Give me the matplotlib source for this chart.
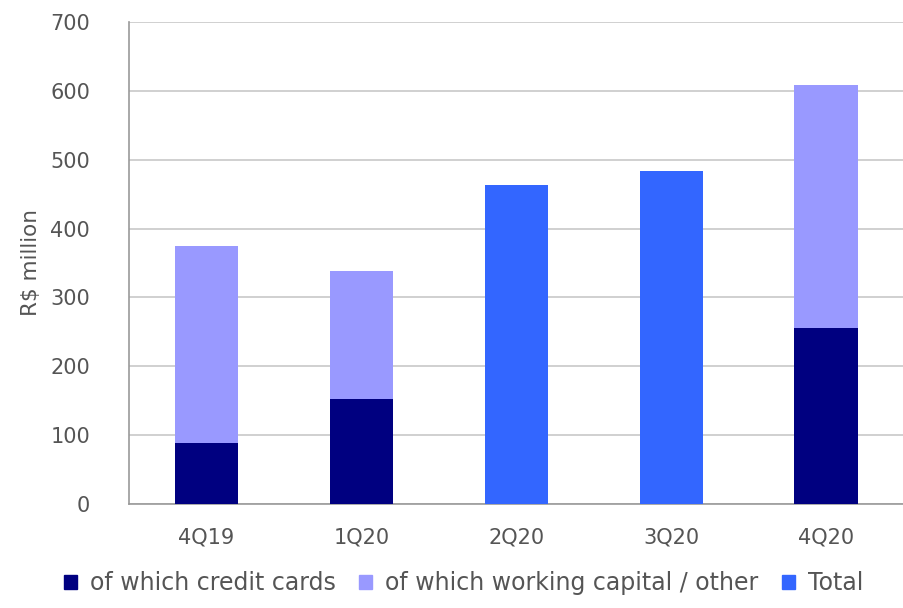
import numpy as np
import matplotlib
matplotlib.use("Agg")
import matplotlib.pyplot as plt
from matplotlib.patches import Patch

categories = ["4Q19", "1Q20", "2Q20", "3Q20", "4Q20"]
credit_cards = [88, 153, np.nan, np.nan, 256]
working_capital = [286, 185, np.nan, np.nan, 353]
total = [np.nan, np.nan, 463, 484, np.nan]
yticks = [0, 100, 200, 300, 400, 500, 600, 700]

c_credit = "#000080"
c_work = "#9999FF"
c_total = "#3366FF"
txt = "#555555"

fig = plt.figure(figsize=(9.04, 6.08), dpi=100)
ax = fig.add_axes([0.1427, 0.171, 0.857, 0.793])

x = np.arange(len(categories))
w = 0.41
cc = np.nan_to_num(np.array(credit_cards, dtype=float))
wc = np.nan_to_num(np.array(working_capital, dtype=float))
tt = np.nan_to_num(np.array(total, dtype=float))
ax.bar(x, cc, w, color=c_credit, zorder=3)
ax.bar(x, wc, w, bottom=cc, color=c_work, zorder=3)
ax.bar(x, tt, w, color=c_total, zorder=3)

ax.set_xlim(-0.5, len(categories) - 0.5)
ax.set_ylim(0, 700)
ax.set_yticks(yticks)
ax.set_xticks(x)
ax.set_xticklabels(categories)
ax.tick_params(axis="both", length=0, labelsize=15, colors=txt)
ax.tick_params(axis="y", pad=28)
ax.tick_params(axis="x", pad=17)
ax.grid(axis="y", color="#c8c8c8", linewidth=1.2, zorder=0)
for s in ["top", "right"]:
    ax.spines[s].set_visible(False)
for s in ["left", "bottom"]:
    ax.spines[s].set_color("#999999")
    ax.spines[s].set_linewidth(1.2)
ax.set_ylabel("R$ million", fontsize=15.5, color=txt)
ax.yaxis.set_label_coords(-0.1135, 0.5)

handles = [Patch(color=c_credit), Patch(color=c_work), Patch(color=c_total)]
labels = ["of which credit cards", "of which working capital / other", "Total"]
fig.legend(handles, labels, loc="center", bbox_to_anchor=(0.513, 0.041), ncol=3,
           frameon=False, fontsize=17, handlelength=0.55, handleheight=0.55,
           handletextpad=0.55, columnspacing=1.0, labelcolor=txt,
           borderpad=0, borderaxespad=0)

fig.savefig("out.png", dpi=100)
